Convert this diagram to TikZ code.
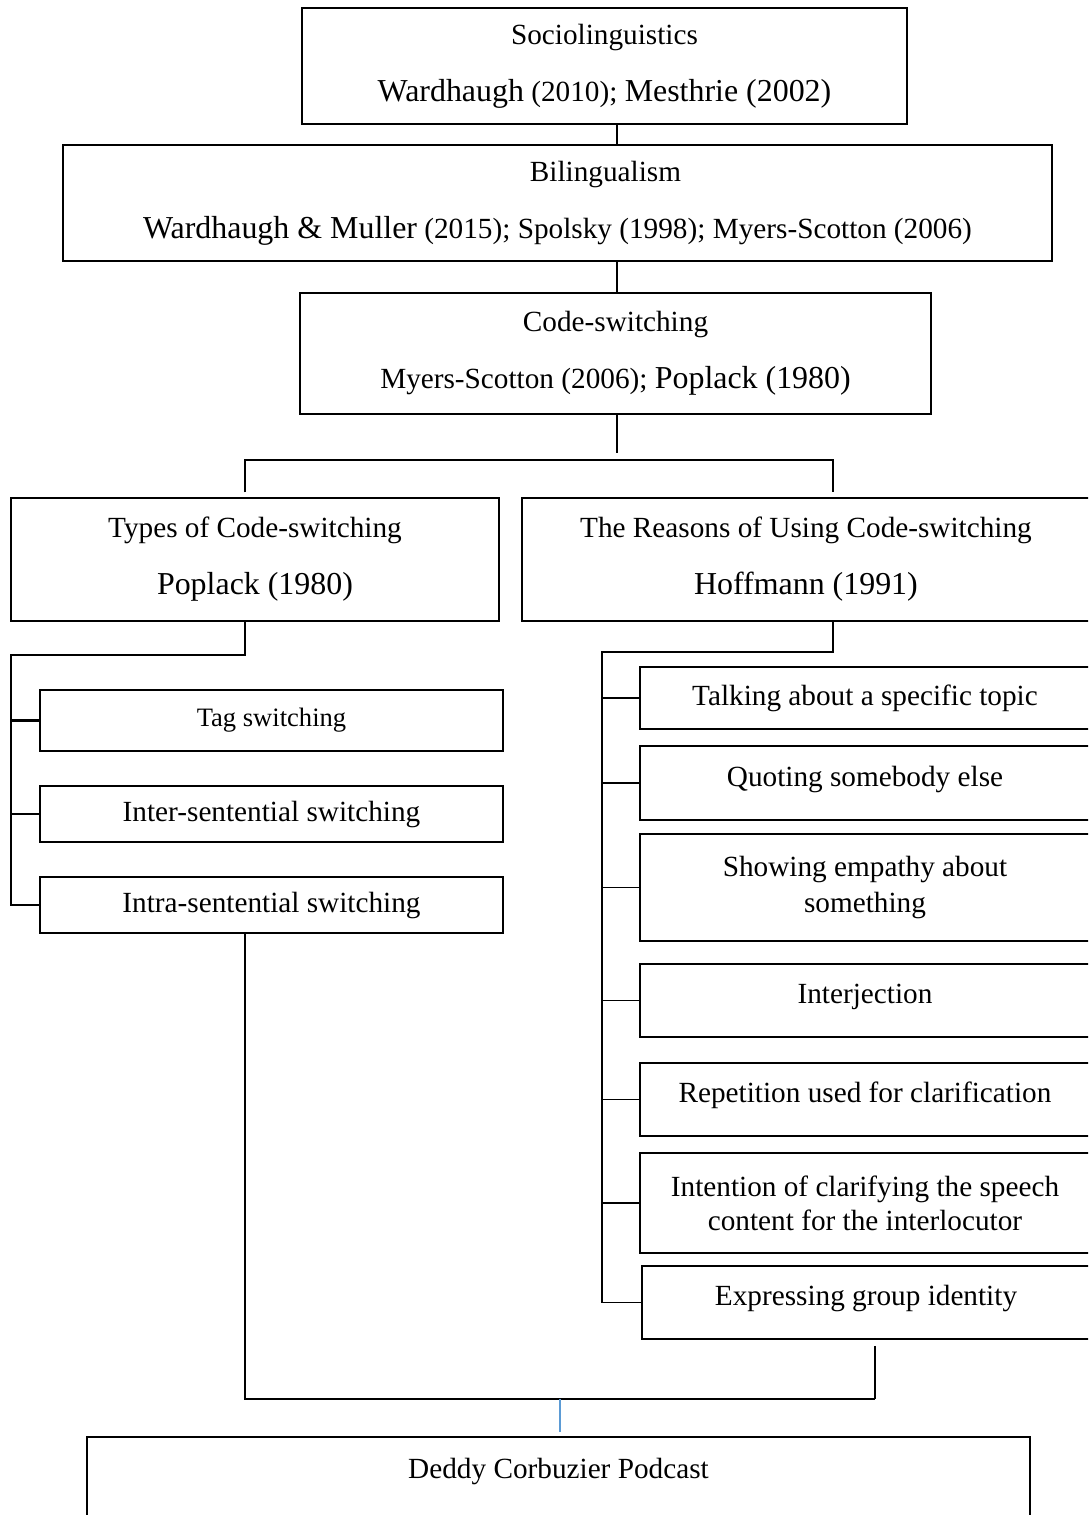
\documentclass[tikz,border=0pt]{standalone}
\usepackage{fontspec}
\setmainfont{Liberation Serif}
\definecolor{wordblue}{HTML}{5B9BD5}
\newcommand{\bigtxt}[1]{{\fontsize{22.7}{27}\selectfont #1}}

\begin{document}
\begin{tikzpicture}[x=0.025cm, y=-0.025cm,
		box/.style 2 args={draw, line width=1.3pt, minimum width=#1*0.025cm, minimum height=#2*0.025cm,
			inner sep=0pt, align=center, font=\fontsize{20.8}{40.5}\selectfont},
		one/.style={text height=0.5cm, text depth=0.35cm},
		link/.style={line width=1pt}]
	\clip (0,0) rectangle (1088,1515);
	% top of the tree
	\node[box={605}{116}] (soc) at (604.5,66) {Sociolinguistics\\ \bigtxt{Wardhaugh} (2010); \bigtxt{Mesthrie (2002)}};
	\node[box={989}{116}] (bil) at (557.5,203) {\hspace*{2.4cm}Bilingualism\\ \bigtxt{Wardhaugh \& Muller} (2015); Spolsky (1998); Myers-Scotton (2006)};
	\node[box={631}{121}] (cs) at (615.5,353.5) {Code-switching\\ Myers-Scotton (2006); \bigtxt{Poplack (1980)}};
	\node[box={488}{123}] (types) at (255,559.5) {Types of Code-switching\\ \bigtxt{Poplack (1980)}};
	\node[box={568}{123}] (reasons) at (806,559.5) {The Reasons of Using Code-switching\\ \bigtxt{Hoffmann (1991)}};
	% types
	\node[box={463}{61}, font=\fontsize{18.9}{23}\selectfont] (tag) at (271.5,720.5) {Tag switching};
	\node[box={463}{56}] (inter) at (271.5,814) {Inter-sentential switching};
	\node[box={463}{56}] (intra) at (271.5,905) {Intra-sentential switching};
	% reasons
	\node[box={450}{62}] (talk) at (865,698) {Talking about a specific topic};
	\node[box={450}{74}, one] (quote) at (865,783) {Quoting somebody else};
	\node[box={450}{107}, font=\fontsize{20.8}{25.6}\selectfont] (empathy) at (865,887.5) {Showing empathy about\\ something};
	\node[box={450}{73}, one] (interj) at (865,1000.5) {Interjection};
	\node[box={450}{73}, one] (repet) at (865,1099.5) {Repetition used for clarification};
	\node[box={450}{100}, font=\fontsize{20.8}{24.2}\selectfont] (intent) at (865,1203) {Intention of clarifying the speech\\ content for the interlocutor};
	\node[box={448}{73}, one] (group) at (866,1302.5) {Expressing group identity};
	\node[box={943}{93}, text height=0.5cm, text depth=0.76cm] (podcast) at (558.5,1483.5) {Deddy Corbuzier Podcast};

	\coordinate (trunk) at (617,0);
	\coordinate (split) at (617,453);
	\coordinate (lbranch) at (245,460);
	\coordinate (rbranch) at (833,460);
	\coordinate (lfork) at (11,655);
	\coordinate (rfork) at (602,652);
	\coordinate (join) at (875,1399);
	\coordinate (mid) at (560,1399);

	\draw[link] (trunk |- soc.south) -- (trunk |- bil.north);
	\draw[link] (trunk |- bil.south) -- (trunk |- cs.north);
	\draw[link] (trunk |- cs.south) -- (split);
	\draw[link, shorten <=0.12cm, shorten >=0.12cm] (lbranch |- types.north) -- (lbranch) -- (rbranch) -- (rbranch |- reasons.north);
	% left fork
	\draw[link] (lbranch |- types.south) -- (lbranch |- lfork) -- (lfork) -- (lfork |- intra.west) -- (intra.west);
	\draw[link, line width=2pt] (lfork |- tag.west) -- (tag.west);
	\draw[link] (lfork |- inter.west) -- (inter.west);
	% right fork
	\draw[link] (rbranch |- reasons.south) -- (rbranch |- rfork) -- (rfork) -- (rfork |- group.west) -- (group.west);
	\foreach \n in {talk,quote,empathy,interj,repet,intent}
		\draw[link] (rfork |- \n.west) -- (\n.west);
	% bottom
	\draw[link] (lbranch |- intra.south) -- (lbranch |- join) -- (join);
	\draw[link, shorten <=0.15cm] (join |- group.south) -- (join);
	\draw[link, wordblue, line width=0.8pt, shorten >=0.1cm] (mid) -- (mid |- podcast.north);
\end{tikzpicture}
\end{document}
